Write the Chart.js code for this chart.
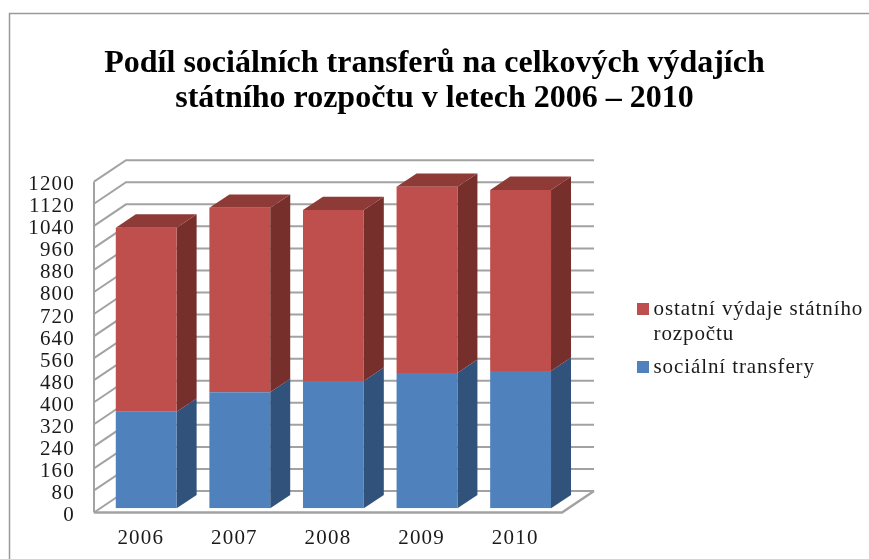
<!DOCTYPE html>
<html><head><meta charset="utf-8">
<style>html,body{margin:0;padding:0;background:#fff}#w{position:relative;width:869px;height:559px}canvas{filter:blur(.45px)}</style>
<script src="https://cdn.jsdelivr.net/npm/chart.js@4"></script>
</head><body><div id="w"><canvas id="c" width="869" height="559"></canvas></div>
<script>
const years = ['2006','2007','2008','2009','2010'];
const socialni = [350,421,462,491,498];
const ostatni = [668,669,620,675,657];
const titleLines = ['Podíl sociálních transferů na celkových výdajích','státního rozpočtu v letech 2006 – 2010'];
const labelOstatni = ['ostatní výdaje státního','rozpočtu'];
const labelSocialni = 'sociální transfery';

const wall = {dx:32, dy:-21.5};
const barShift = {dx:5.4, dy:-4.2};
const barDepth = {dx:20, dy:-13.4};

function wrapDraw(obj, name, spacing, dy){
  const f = obj[name];
  obj[name] = function(...a){
    const c = this.ctx;
    c.save();
    c.letterSpacing = spacing;
    if(dy) c.translate(0,dy);
    f.apply(this,a);
    c.restore();
  };
}

const scene = {
  id:'scene',
  beforeLayout(chart){
    const l = chart.legend;
    if(!l._wrapped){
      const f = l.fit;
      l.fit = function(){ f.call(this); this.width = 307; };
      l._wrapped = true;
      wrapDraw(l,'draw','0.9px',0);
      wrapDraw(chart.titleBlock,'draw','0px',0);
      wrapDraw(chart.scales.y,'drawLabels','1.2px',3);
      wrapDraw(chart.scales.x,'drawLabels','1.2px',0);
    }
  },
  afterLayout(chart){
    const l = chart.legend;
    l.left = 635; l.top = 290.5;
    l.right = 869; l.bottom = 390;
  },
  beforeDraw(chart){
    const c = chart.ctx;
    c.save();
    c.strokeStyle='#9a9a9a'; c.lineWidth=1.5;
    c.beginPath(); c.moveTo(9.5,559); c.lineTo(9.5,13.5); c.lineTo(869,13.5); c.stroke();
    c.restore();
  },
  beforeDatasetsDraw(chart){
    const c = chart.ctx, y = chart.scales.y, a = chart.chartArea;
    c.save();
    c.strokeStyle='#a2a2a2'; c.lineWidth=2;
    y.ticks.forEach(t=>{
      const p = y.getPixelForValue(t.value);
      c.beginPath();
      c.moveTo(a.left,p); c.lineTo(a.left+wall.dx,p+wall.dy); c.lineTo(a.right+wall.dx,p+wall.dy);
      c.stroke();
    });
    c.beginPath(); c.moveTo(a.left,y.top); c.lineTo(a.left,y.bottom); c.stroke();
    c.lineWidth=2.5;
    c.beginPath(); c.moveTo(a.left,y.bottom); c.lineTo(a.right,y.bottom); c.lineTo(a.right+wall.dx,y.bottom+wall.dy); c.stroke();
    [[0,'#30527B'],[1,'#772F2C']].forEach(([i,col])=>{
      chart.getDatasetMeta(i).data.forEach(b=>{
        const x = b.x + b.width/2 + barShift.dx;
        const t = b.y + barShift.dy, bt = b.base + barShift.dy;
        c.fillStyle = col;
        c.beginPath();
        c.moveTo(x,t); c.lineTo(x+barDepth.dx,t+barDepth.dy); c.lineTo(x+barDepth.dx,bt+barDepth.dy); c.lineTo(x,bt);
        c.closePath(); c.fill();
        if(i===1){
          const xl = b.x - b.width/2 + barShift.dx;
          c.fillStyle='#8E3A37';
          c.beginPath();
          c.moveTo(xl,t); c.lineTo(xl+barDepth.dx,t+barDepth.dy); c.lineTo(x+barDepth.dx,t+barDepth.dy); c.lineTo(x,t);
          c.closePath(); c.fill();
        }
      });
    });
    c.restore();
    c.save();
    c.translate(barShift.dx,barShift.dy);
  },
  afterDatasetsDraw(chart){ chart.ctx.restore(); }
};

new Chart(document.getElementById('c'),{
  type:'bar',
  data:{labels:years,datasets:[
    {label:labelSocialni,data:socialni,backgroundColor:'#4F81BD',barPercentage:.65,categoryPercentage:1},
    {label:labelOstatni,data:ostatni,backgroundColor:'#BE4F4C',barPercentage:.65,categoryPercentage:1}
  ]},
  plugins:[scene],
  options:{
    responsive:false,animation:false,
    layout:{padding:0},
    plugins:{
      tooltip:{enabled:false},
      title:{display:true,text:titleLines,color:'#000',
        font:{family:'"Liberation Serif"',size:32,weight:'bold',lineHeight:35/32},
        padding:{top:46,bottom:65.7}},
      legend:{position:'right',align:'start',reverse:true,
        labels:{usePointStyle:true,pointStyle:'rect',pointStyleWidth:0,boxWidth:0.01,boxHeight:12,padding:8,color:'#1a1a1a',
          font:{family:'"Liberation Serif"',size:21,lineHeight:25/21}}}
    },
    scales:{
      x:{stacked:true,grid:{display:false},border:{display:false},
        afterFit:s=>{s.height=46.5},
        ticks:{color:'#1a1a1a',padding:5,font:{family:'"Liberation Serif"',size:21}}},
      y:{stacked:true,min:0,max:1200,grid:{display:false},border:{display:false},
        afterFit:s=>{s.width=94},
        ticks:{stepSize:80,autoSkip:false,color:'#1a1a1a',padding:11,callback:v=>String(v),font:{family:'"Liberation Serif"',size:21}}}
    }
  }
});
</script></body></html>
